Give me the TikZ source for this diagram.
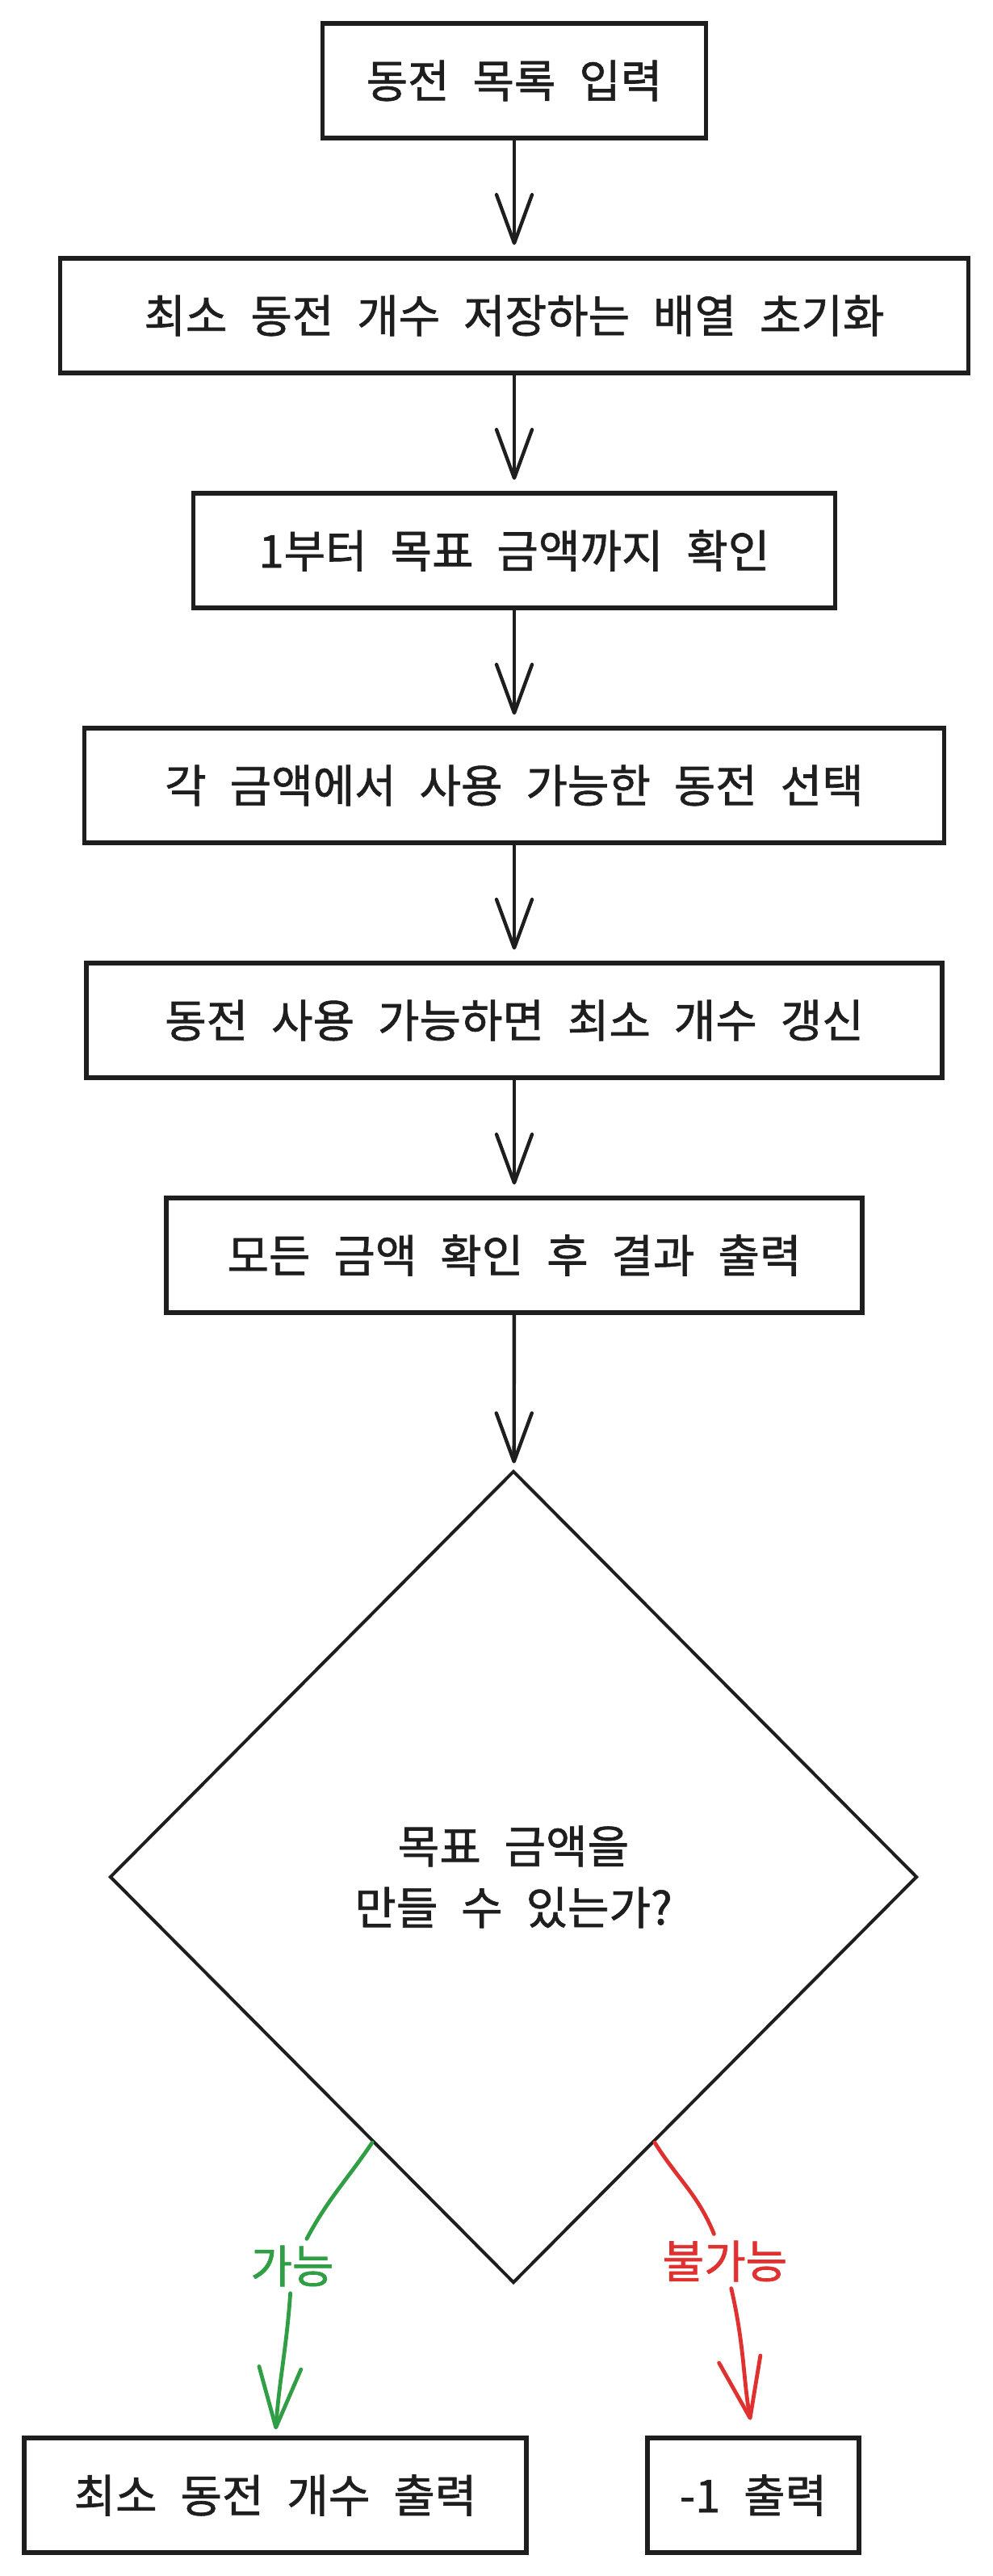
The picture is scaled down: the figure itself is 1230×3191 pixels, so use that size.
\documentclass[tikz,border=0pt]{standalone}
\usepackage{fontspec}
\setmainfont{Noto Sans CJK KR}[WordSpace=2.3,UprightFeatures={FakeBold=1.2}]
\usetikzlibrary{shapes.geometric,arrows.meta}
\definecolor{ink}{HTML}{1E1E1E}
\definecolor{okgreen}{HTML}{2F9E44}
\definecolor{nored}{HTML}{E03131}
\begin{document}
\begin{tikzpicture}[x=0.5pt,y=-0.5pt,
  label font/.style={font=\fontsize{28}{38}\selectfont},
  procbox/.style={draw=ink,line width=2.6pt,minimum height=71pt,inner sep=0pt,text=ink,label font},
  decbox/.style={draw=ink,line width=2pt,shape=diamond,minimum width=500pt,minimum height=503pt,inner sep=0pt,align=center,text=ink,label font},
  flowline/.style={draw=ink,line width=2.2pt,line cap=round,-{Straight Barb[length=30pt,width=22pt,round]},shorten >=7pt},
  yesline/.style={draw=okgreen,line width=2.4pt,line cap=round,-{Straight Barb[length=37pt,width=26pt,round]},shorten >=4pt},
  noline/.style={draw=nored,line width=2.4pt,line cap=round,-{Straight Barb[length=37pt,width=26pt,round]},shorten >=10pt},
  branch/.style={inner sep=4pt,label font}]
\useasboundingbox (0,0) rectangle (1230,3191);
\node[procbox,minimum width=237.5pt] (coins) at (637,100) {동전 목록 입력};
\node[procbox,minimum width=562.5pt] (init) at (637,391) {최소 동전 개수 저장하는 배열 초기화};
\node[procbox,minimum width=397.5pt] (loop) at (637,682) {1부터 목표 금액까지 확인};
\node[procbox,minimum width=532.5pt] (pick) at (637,973) {각 금액에서 사용 가능한 동전 선택};
\node[procbox,minimum width=530pt] (update) at (637,1264) {동전 사용 가능하면 최소 개수 갱신};
\node[procbox,minimum width=431pt] (result) at (637,1555) {모든 금액 확인 후 결과 출력};
\node[decbox] (check) at (636,2325) {목표 금액을\\만들 수 있는가?};
\node[procbox,minimum width=311pt] (best) at (341,3091) {최소 동전 개수 출력};
\node[procbox,minimum width=131pt] (none) at (933,3091) {-1 출력};
\node[branch,text=okgreen] (able) at (362,2807) {가능};
\node[branch,text=nored] (unable) at (898,2801) {불가능};
\draw[flowline] (coins) -- (init);
\draw[flowline] (init) -- (loop);
\draw[flowline] (loop) -- (pick);
\draw[flowline] (pick) -- (update);
\draw[flowline] (update) -- (result);
\draw[flowline,shorten >=4pt] (result) -- (check);
\draw[yesline] (check.242) to[out=236,in=62] (able) (able) to[out=266,in=86] (best.north);
\draw[noline] (check.298) to[out=302,in=112] (unable) (unable) to[out=283,in=100] (none.north);
\end{tikzpicture}
\end{document}
